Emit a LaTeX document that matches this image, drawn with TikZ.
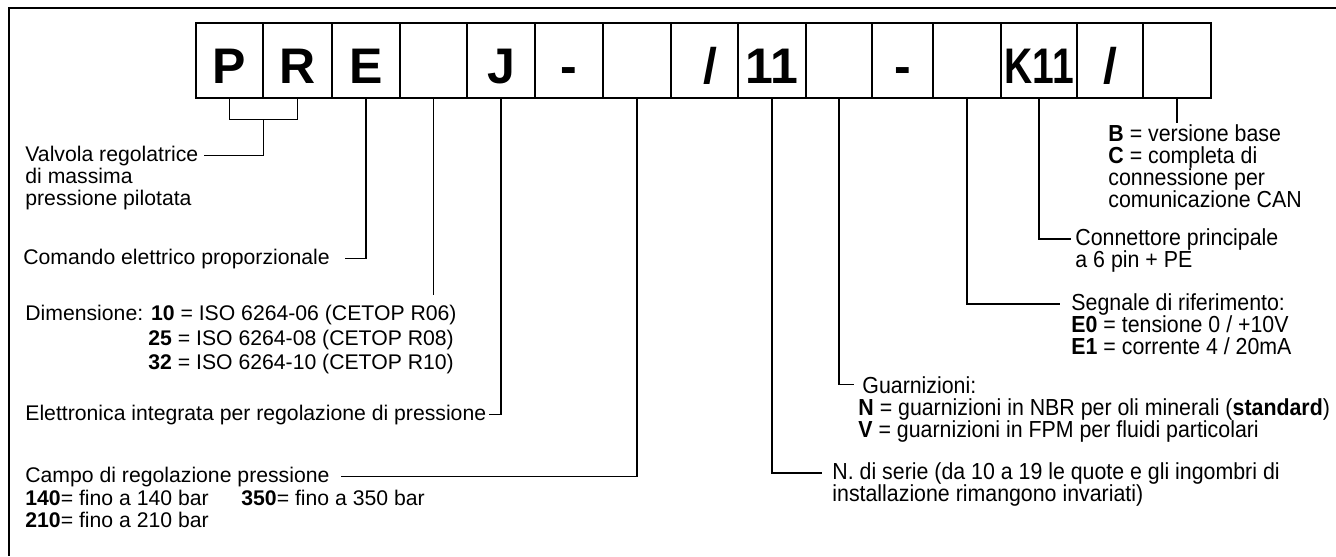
\documentclass[tikz,border=0pt]{standalone}
\usepackage{fontspec}
\setmainfont{Liberation Sans}
\newfontfamily\narrowfont{Liberation Sans}[FakeStretch=0.92]
\usetikzlibrary{positioning}

\tikzset{
  cell/.style = {draw, line width=0.65pt, minimum height=37.5pt, inner sep=0pt},
  code/.style = {font=\fontsize{25}{25}\selectfont\bfseries, inner sep=0pt, anchor=base},
  lbl/.style = {font=\fontsize{10.6}{10.6}\selectfont, inner sep=0pt, anchor=base west},
  rlbl/.style = {font=\narrowfont\fontsize{11.6}{11.6}\selectfont, inner sep=0pt, anchor=base west},
  lead/.style = {line width=0.65pt}
}

\begin{document}
\begin{tikzpicture}[x=0.5pt, y=-0.5pt]
    \useasboundingbox (0,0) rectangle (1336,556);
    % frame
    \draw[line width=1pt] (1336,8) -- (9,8) -- (9,556);

    % code cells
    \foreach \n/\l/\r/\t in {1/196/263/P, 2/263/332/R, 3/332/400/E, 4/400/467/, 5/467/535/J,
                             6/535/603/-, 7/603/671/, 8/671/738/{\hspace*{6pt}/}, 9/738/806/11, 10/806/872/,
                             11/872/933/-, 12/933/1001/, 13/1001/1077/{\scalebox{0.78}[1]{K11}},
                             14/1077/1143/{/}, 15/1143/1211/}{
        \node[cell, minimum width={(\r-\l)*0.5pt}] (c\n) at ({(\l+\r)/2},60.5) {};
        \node[code] (t\n) at ([yshift=7.5pt]c\n.south) {\t};
    }

    % left labels
    \node[lbl] (tvalv) at (25,161) {Valvola regolatrice};
    \node[lbl] (tvalv2) at (25,183) {di massima};
    \node[lbl] (tvalv3) at (25,205) {pressione pilotata};
    \node[lbl] (tcom) at (23,264) {Comando elettrico proporzionale};
    \node[lbl] (tdim) at (25,320) {Dimensione: \textbf{10} = ISO 6264-06 (CETOP R06)};
    \node[lbl] (tdim2) at (148,345) {\textbf{25} = ISO 6264-08 (CETOP R08)};
    \node[lbl] (tdim3) at (148,369) {\textbf{32} = ISO 6264-10 (CETOP R10)};
    \node[lbl] (tele) at (25,420) {Elettronica integrata per regolazione di pressione};
    \node[lbl] (tcampo) at (25,482) {Campo di regolazione pressione};
    \node[lbl] (tcampo2) at (25,505) {\textbf{140}= fino a 140 bar};
    \node[lbl] (tcampo3) at (241,505) {\textbf{350}= fino a 350 bar};
    \node[lbl] (tcampo4) at (25,527) {\textbf{210}= fino a 210 bar};

    % right labels
    \node[rlbl] (tver) at (1108,141) {\textbf{B} = versione base};
    \node[rlbl] (tver2) at (1108,163) {\textbf{C} = completa di};
    \node[rlbl] (tver3) at (1108,185) {connessione per};
    \node[rlbl] (tver4) at (1108,207) {comunicazione CAN};
    \node[rlbl] (tconn) at (1075,245) {Connettore principale};
    \node[rlbl] (tconn2) at (1075,267) {a 6 pin + PE};
    \node[rlbl] (tsegn) at (1071,310) {Segnale di riferimento:};
    \node[rlbl] (tsegn2) at (1071,332) {\textbf{E0} = tensione 0 / +10V};
    \node[rlbl] (tsegn3) at (1071,354) {\textbf{E1} = corrente 4 / 20mA};
    \node[rlbl] (tguar) at (862,393) {Guarnizioni:};
    \node[rlbl] (tguar2) at (858,415) {\textbf{N} = guarnizioni in NBR per oli minerali (\textbf{standard})};
    \node[rlbl] (tguar3) at (858,437) {\textbf{V} = guarnizioni in FPM per fluidi particolari};
    \node[rlbl] (tser) at (832,479) {N. di serie (da 10 a 19 le quote e gli ingombri di};
    \node[rlbl] (tser2) at (832,501) {installazione rimangono invariati)};

    % leaders
    \coordinate (pr) at ([yshift=-10.5pt]c1.south east);
    \coordinate (d4) at (433.5,295);
    \coordinate (d15) at (1177,123);
    \draw[lead] (c1.south) |- (pr) -| (c2.south);
    \draw[lead] (pr) |- ([xshift=2.5pt]tvalv.east);
    \draw[lead] (c3.south) |- ([xshift=7.5pt]tcom.east);
    \draw[lead] (c4.south) -- (d4);
    \draw[lead] (c5.south) |- ([xshift=1pt]tele.east);
    \draw[lead] (c7.south) |- ([xshift=5.5pt]tcampo.east);
    \draw[lead] (c9.south) |- ([xshift=-5pt]tser.west);
    \draw[lead] (c10.south) |- ([xshift=-4pt]tguar.west);
    \draw[lead] (c12.south) |- ([xshift=-5.5pt]tsegn.west);
    \draw[lead] (c13.south) |- ([xshift=-2pt]tconn.west);
    \draw[lead] (c15.south) -- (d15);
\end{tikzpicture}
\end{document}
